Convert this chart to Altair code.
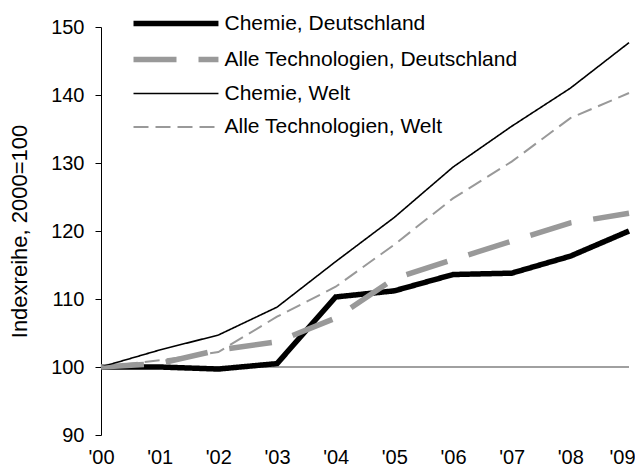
import altair as alt
import pandas as pd

years = ["'00", "'01", "'02", "'03", "'04", "'05", "'06", "'07", "'08", "'09"]
series = ["Chemie, Deutschland", "Alle Technologien, Deutschland",
          "Chemie, Welt", "Alle Technologien, Welt"]
chem_de = [100, 100, 99.7, 100.5, 110.3, 111.2, 113.6, 113.8, 116.3, 120.0]
alle_de = [100, 100.5, 102.5, 103.7, 107.2, 113.0, 115.8, 118.5, 121.2, 122.6]
chem_welt = [100, 102.5, 104.7, 108.8, 115.5, 122.0, 129.4, 135.4, 141.0, 147.7]
alle_welt = [100, 101.0, 102.2, 107.4, 111.8, 118.0, 124.8, 130.2, 136.6, 140.3]

colors = ["#000000", "#999999", "#000000", "#999999"]
dashes = [[1, 0], [43, 22], [1, 0], [15, 7]]
widths = [5.5, 5.5, 1.6, 2]

rows = []
for name, vals in zip(series, [chem_de, alle_de, chem_welt, alle_welt]):
    for y, v in zip(years, vals):
        rows.append({"year": y, "value": v, "series": name})
df = pd.DataFrame(rows)

FONT = "Liberation Sans"
last_label = years[-1]

xenc = alt.X("year:O", sort=years, title=None,
             scale=alt.Scale(type="point", padding=0),
             axis=alt.Axis(labelAngle=0, domain=False, ticks=False, labelFontSize=20,
                           labelFont=FONT, labelColor="black", labelPadding=12,
                           labelOffset=alt.ExprRef(
                               expr="datum.value == \"" + last_label + "\" ? -7 : 0")))

yenc = alt.Y("value:Q", title="Indexreihe, 2000=100",
             scale=alt.Scale(domain=[90, 150], nice=False, zero=False),
             axis=alt.Axis(values=[90, 100, 110, 120, 130, 140, 150], grid=False,
                           domainColor="black", tickColor="black", tickSize=6,
                           labelFontSize=20, labelFont=FONT, labelColor="black",
                           labelPadding=11, titleFontSize=22, titleFont=FONT,
                           titleFontWeight="normal", titleColor="black", titlePadding=19))

base_rule = alt.Chart(pd.DataFrame({"v": [100]})).mark_rule(color="#808080", strokeWidth=1.5).encode(
    y=alt.Y("v:Q")
)

leg = alt.Legend(title=None)
lines = alt.Chart(df).mark_line(strokeCap="butt", strokeJoin="miter").encode(
    x=xenc,
    y=yenc,
    color=alt.Color("series:N", scale=alt.Scale(domain=series, range=colors), legend=leg),
    strokeDash=alt.StrokeDash("series:N", scale=alt.Scale(domain=series, range=dashes), legend=leg),
    strokeWidth=alt.StrokeWidth("series:N",
                                scale=alt.Scale(type="ordinal", domain=series, range=widths),
                                legend=leg),
    detail="series:N",
)

chart = alt.layer(base_rule, lines).properties(
    width=528, height=408,
    padding={"left": 93, "top": 19, "right": 6, "bottom": 32},
    autosize=alt.AutoSizeParams(type="none"),
).configure_view(stroke=None).configure_legend(
    orient="none", legendX=15.5, legendY=-20.5, symbolType="M0,0H6", symbolSize=802,
    labelFontSize=21, labelFont=FONT, labelColor="black", labelOffset=74,
    rowPadding=8, labelLimit=500,
)

chart.save("out.html", embed_options={"renderer": "svg", "actions": False})
